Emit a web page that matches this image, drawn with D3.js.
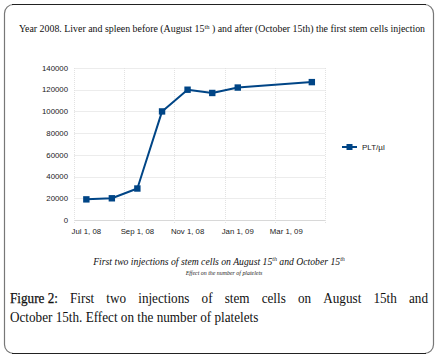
<!DOCTYPE html>
<html>
<head>
<meta charset="utf-8">
<script src="https://cdn.jsdelivr.net/npm/d3@7"></script>
<style>
  body { margin: 0; background: #fff; }
  svg { display: block; }
</style>
</head>
<body>
<div id="chart"></div>
<script>
// data
const dates = ['2008-07-01', '2008-08-01', '2008-09-01', '2008-10-01', '2008-11-01', '2008-12-01', '2009-01-01', '2009-04-01'];
const plt = [19000, 20000, 29000, 100000, 120000, 117000, 122000, 127000];
const xTickLabels = ['Jul 1, 08', 'Sep 1, 08', 'Nov 1, 08', 'Jan 1, 09', 'Mar 1, 09'];
const xTickDates = ['2008-07-01', '2008-09-01', '2008-11-01', '2009-01-01', '2009-03-01'];
const yTicks = [0, 20000, 40000, 60000, 80000, 100000, 120000, 140000];
const seriesName = 'PLT/µl';

const W = 438, H = 359;
const parse = d3.timeParse('%Y-%m-%d');
const data = dates.map((d, i) => ({ date: parse(d), value: plt[i] }));

const svg = d3.select('#chart').append('svg')
  .attr('width', W).attr('height', H);

// outer frame
svg.append('rect')
  .attr('x', 4.5).attr('y', 4.5)
  .attr('width', 429).attr('height', 349)
  .attr('rx', 9).attr('ry', 9)
  .attr('fill', 'none')
  .attr('stroke', '#777').attr('stroke-width', 1.2);
svg.append('line').attr('x1', 12).attr('x2', 426).attr('y1', 4.5).attr('y2', 4.5)
  .attr('stroke', '#222').attr('stroke-width', 1.2);
svg.append('line').attr('x1', 12).attr('x2', 426).attr('y1', 353.5).attr('y2', 353.5)
  .attr('stroke', '#222').attr('stroke-width', 1.2);

// chart title
const title = svg.append('text')
  .attr('x', 222).attr('y', 32)
  .attr('text-anchor', 'middle')
  .attr('font-family', 'Liberation Serif, serif')
  .attr('font-size', '9.9px')
  .attr('fill', '#111');
title.append('tspan').text('Year 2008. Liver and spleen before (August 15');
title.append('tspan').attr('font-size', '6.5px').attr('dy', -3.5).text('th');
title.append('tspan').attr('dy', 3.5).text(' ) and after (October 15th) the first stem cells injection');

// scales
const x = d3.scaleTime()
  .domain([parse('2008-06-16'), parse('2009-04-17')])
  .range([74, 325]);
const y = d3.scaleLinear()
  .domain([0, 140000])
  .range([220, 68]);

const g = svg.append('g');

// grid
g.selectAll('.hgrid').data(yTicks).enter().append('line')
  .attr('x1', 74).attr('x2', 325)
  .attr('y1', d => Math.round(y(d)) + 0.5).attr('y2', d => Math.round(y(d)) + 0.5)
  .attr('stroke', d => d === 0 ? '#d8d8d8' : '#ececec').attr('stroke-width', 1);

const vTicks = [parse('2008-06-16'), parse('2008-08-16'), parse('2008-10-16'), parse('2008-12-16'), parse('2009-02-15'), parse('2009-04-17')];
g.selectAll('.vgrid').data(vTicks).enter().append('line')
  .attr('x1', d => Math.round(x(d)) + 0.5).attr('x2', d => Math.round(x(d)) + 0.5)
  .attr('y1', 68).attr('y2', 223)
  .attr('stroke', '#e2e2e2').attr('stroke-dasharray', '1,1');

// y axis labels
g.selectAll('.ylab').data(yTicks).enter().append('text')
  .attr('x', 68).attr('y', d => y(d))
  .attr('dy', '0.35em')
  .attr('text-anchor', 'end')
  .attr('font-family', 'Liberation Sans, Arial, sans-serif')
  .attr('font-size', '7.8px')
  .attr('fill', '#222')
  .text(d => d);

// x axis labels
g.selectAll('.xlab').data(xTickDates).enter().append('text')
  .attr('x', d => x(parse(d))).attr('y', 234)
  .attr('text-anchor', 'middle')
  .attr('font-family', 'Liberation Sans, Arial, sans-serif')
  .attr('font-size', '7.8px')
  .attr('fill', '#222')
  .text((d, i) => xTickLabels[i]);

// series
const blue = '#004586';
g.append('path')
  .datum(data)
  .attr('fill', 'none')
  .attr('stroke', blue)
  .attr('stroke-width', 2)
  .attr('stroke-linejoin', 'round')
  .attr('d', d3.line().x(d => x(d.date)).y(d => y(d.value)));

g.selectAll('.pt').data(data).enter().append('rect')
  .attr('x', d => x(d.date) - 3.2).attr('y', d => y(d.value) - 3.2)
  .attr('width', 6.4).attr('height', 6.4)
  .attr('fill', blue);

// legend
const lg = svg.append('g').attr('transform', 'translate(342,147)');
lg.append('line').attr('x1', 0).attr('x2', 15).attr('y1', 0).attr('y2', 0)
  .attr('stroke', blue).attr('stroke-width', 2);
lg.append('rect').attr('x', 4.5).attr('y', -3).attr('width', 6).attr('height', 6).attr('fill', blue);
lg.append('text').attr('x', 20).attr('y', 0).attr('dy', '0.35em')
  .attr('font-family', 'Liberation Sans, Arial, sans-serif')
  .attr('font-size', '8px').attr('fill', '#222')
  .text(seriesName);

// caption under chart
const cap = svg.append('text')
  .attr('x', 219).attr('y', 264.5)
  .attr('text-anchor', 'middle')
  .attr('font-family', 'Liberation Serif, serif')
  .attr('font-style', 'italic')
  .attr('font-size', '9.7px')
  .attr('fill', '#111');
cap.append('tspan').text('First two injections of stem cells on August 15');
cap.append('tspan').attr('font-size', '6px').attr('dy', -3.8).text('th');
cap.append('tspan').attr('dy', 3.8).text(' and October 15');
cap.append('tspan').attr('font-size', '6px').attr('dy', -3.8).text('th');

svg.append('text')
  .attr('x', 224).attr('y', 274.5)
  .attr('text-anchor', 'middle')
  .attr('font-family', 'Liberation Serif, serif')
  .attr('font-style', 'italic')
  .attr('font-size', '5.9px')
  .attr('fill', '#222')
  .text('Effect on the number of platelets');

// figure caption, first line justified
const figFont = 'Liberation Serif, serif';
const squeeze = 0.94;
const line1 = ['Figure 2:', 'First', 'two', 'injections', 'of', 'stem', 'cells', 'on', 'August', '15th', 'and'];
const fig1 = svg.append('g');
const words = fig1.selectAll('text').data(line1).enter().append('text')
  .attr('y', 303)
  .attr('font-family', figFont)
  .attr('font-size', '14px')
  .attr('fill', '#111')
  .attr('stroke', (d, i) => i === 0 ? '#111' : 'none')
  .attr('stroke-width', 0.25)
  .text(d => d);
const widths = [];
words.each(function () { widths.push(this.getComputedTextLength() * squeeze); });
words.attr('textLength', (d, i) => widths[i]).attr('lengthAdjust', 'spacingAndGlyphs');
const left = 10, right = 428;
const gap = (right - left - d3.sum(widths)) / (line1.length - 1);
let cx = left;
words.attr('x', (d, i) => { const p = cx; cx += widths[i] + gap; return p; });

const l2 = svg.append('text')
  .attr('x', 10).attr('y', 321.5)
  .attr('font-family', figFont)
  .attr('font-size', '14px')
  .attr('fill', '#111')
  .text('October 15th. Effect on the number of platelets');
l2.attr('textLength', l2.node().getComputedTextLength() * squeeze).attr('lengthAdjust', 'spacingAndGlyphs');
</script>
</body>
</html>
